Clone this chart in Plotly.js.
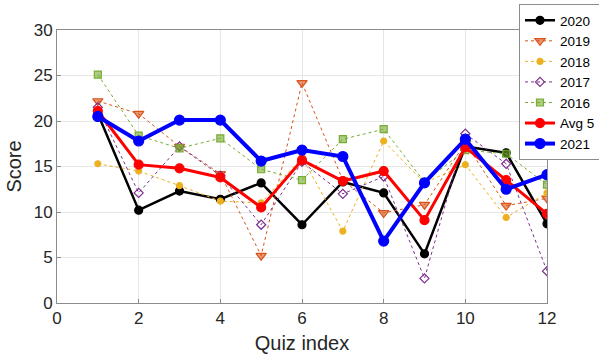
<!DOCTYPE html>
<html><head><meta charset="utf-8">
<script src="https://cdn.plot.ly/plotly-3.0.1.min.js"></script>
<style>html,body{margin:0;padding:0;background:#fff;overflow:hidden}#chart{width:599px;height:355px}</style>
</head><body><div id="chart"></div>
<script>
const quiz = [1,2,3,4,5,6,7,8,9,10,11,12];
const y2020 = [20.8,10.2,12.3,11.4,13.2,8.6,13.3,12.1,5.4,17.2,16.5,8.7];
const y2019 = [22.2,20.8,17.2,14.2,5.2,24.2,13.5,9.9,10.8,17.6,10.7,11.5];
const y2018 = [15.3,14.5,12.9,11.2,11.0,16.0,7.9,17.8,13.2,15.2,9.4,12.1];
const y2017 = [21.5,12.1,17.2,14.0,8.6,15.5,12.0,13.9,2.7,18.6,15.3,3.5];
const y2016 = [25.1,18.4,17.0,18.1,14.7,13.5,18.0,19.1,13.3,16.8,16.4,13.0];
const yAvg5 = [21.1,15.2,14.8,13.8,10.5,15.7,13.4,14.5,9.1,17.1,13.5,9.8];
const y2021 = [20.5,17.8,20.1,20.1,15.6,16.8,16.1,6.8,13.2,18.0,12.5,14.1];

const F = 'Liberation Sans, Arial, sans-serif';
function tr(name, y, color, width, dash, sym, msize, mfill) {
  return {x: quiz, y: y, name: name, type: 'scatter', mode: 'lines+markers',
    line: {color: color, width: width, dash: dash},
    marker: {symbol: sym, size: msize, color: mfill, line: {color: color, width: 1.2}}};
}
const data = [
  tr('2020', y2020, '#000000', 2.5, 'solid', 'circle', 8, '#000000'),
  tr('2019', y2019, '#D95319', 1, 'dot', 'triangle-down', 9, 'rgba(217,83,25,0.6)'),
  tr('2018', y2018, '#EDB120', 1, 'dot', 'circle', 6, '#EDB120'),
  tr('2017', y2017, '#7E2F8E', 1, 'dot', 'diamond-open', 7, '#7E2F8E'),
  tr('2016', y2016, '#77AC30', 1, 'dot', 'square', 7, 'rgba(119,172,48,0.6)'),
  tr('Avg 5', yAvg5, '#FF0000', 3, 'solid', 'circle', 9, '#FF0000'),
  tr('2021', y2021, '#0000FF', 4, 'solid', 'circle', 10, '#0000FF')
];
const axisCommon = {showline: true, mirror: true, linecolor: '#8c8c8c', linewidth: 1,
  showgrid: true, gridcolor: '#e6e6e6', zeroline: false, ticks: 'inside', ticklen: 4,
  tickcolor: '#8c8c8c', tickfont: {family: F, size: 17, color: '#262626'}};
const layout = {
  width: 599, height: 355, paper_bgcolor: '#fff', plot_bgcolor: '#fff',
  margin: {l: 57, r: 52, t: 30, b: 52, autoexpand: false},
  xaxis: Object.assign({}, axisCommon, {range: [0, 12], tickvals: [0,2,4,6,8,10,12],
    title: {text: 'Quiz index', font: {family: F, size: 20, color: '#262626'}, standoff: 8}}),
  yaxis: Object.assign({}, axisCommon, {range: [0, 30], tickvals: [0,5,10,15,20,25,30],
    title: {text: 'Score', font: {family: F, size: 20, color: '#262626'}, standoff: 6}}),
  showlegend: true,
  legend: {xref: 'container', yref: 'container', x: 519/599, y: 1 - 4/355,
    xanchor: 'left', yanchor: 'top', bgcolor: '#fff',
    bordercolor: '#8c8c8c', borderwidth: 1, font: {family: F, size: 13.5, color: '#000'},
    itemwidth: 30, tracegroupgap: 0}
};
Plotly.newPlot('chart', data, layout, {displayModeBar: false, staticPlot: true});
</script></body></html>
